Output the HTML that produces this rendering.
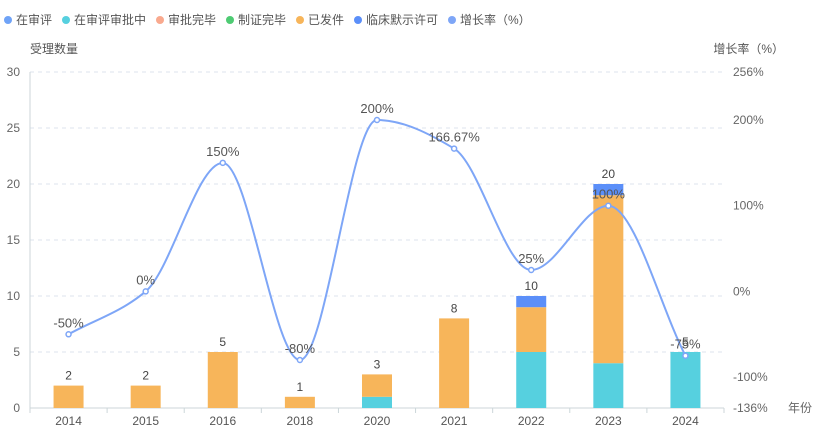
<!DOCTYPE html><html><head><meta charset="utf-8"><style>body{margin:0;background:#fff}svg{display:block;font-family:"Liberation Sans","Noto Sans CJK SC",sans-serif}</style></head><body>
<svg id="s" width="821" height="432" xmlns="http://www.w3.org/2000/svg"></svg>
<script>
const s=document.getElementById('s');let h='';
const L=30,R=724,T=72,B=408,cw=(R-L)/9;
const yl=v=>B-v*(B-T)/30, yr=p=>T+(256-p)*(B-T)/392;
const leg=[['在审评','#6FA3F7'],['在审评审批中','#56D0DF'],['审批完毕','#F9A98E'],['制证完毕','#4ECB73'],['已发件','#F7B55A'],['临床默示许可','#5B8FF9'],['增长率（%）','#7EA6F7']];
let x=8;
leg.forEach(([t,c])=>{h+=`<circle cx="${x}" cy="20" r="4" fill="${c}"/><text x="${x+8}" y="24" font-size="12" fill="#555">${t}</text>`;x+=8+t.length*12+(t.includes('%')?-6:0)+14;});
h+=`<text x="30" y="53" font-size="12" fill="#555">受理数量</text><text x="784" y="53" font-size="12" fill="#555" text-anchor="end">增长率（%）</text>`;
for(let v=5;v<=30;v+=5)h+=`<line x1="${L}" x2="${R}" y1="${yl(v)}" y2="${yl(v)}" stroke="#dde3ee" stroke-dasharray="4,4"/>`;
for(let v=0;v<=30;v+=5)h+=`<text x="20" y="${yl(v)+4}" font-size="12" fill="#666" text-anchor="end">${v}</text>`;
[[256,'256%'],[200,'200%'],[100,'100%'],[0,'0%'],[-100,'-100%'],[-136,'-136%']].forEach(([p,t])=>h+=`<text x="733" y="${yr(p)+4}" font-size="12" fill="#666">${t}</text>`);
h+=`<text x="788" y="412" font-size="12" fill="#666">年份</text>`;
h+=`<line x1="${L}" x2="${R}" y1="${B}" y2="${B}" stroke="#ccd6d9"/><line x1="${L}" x2="${L}" y1="${T}" y2="${B}" stroke="#ccd6d9"/>`;
const yrs=[2014,2015,2016,2018,2020,2021,2022,2023,2024];
for(let i=0;i<=9;i++)h+=`<line x1="${L+i*cw}" x2="${L+i*cw}" y1="${B}" y2="${B+5}" stroke="#ccd6d9"/>`;
const bars=[[0,2,0],[0,2,0],[0,5,0],[0,1,0],[1,2,0],[0,8,0],[5,4,1],[4,15,1],[5,0,0]];
const tot=[2,2,5,1,3,8,10,20,5];
const cols=['#56D0DF','#F7B55A','#5B8FF9'];
yrs.forEach((y,i)=>{const cx=L+cw*(i+.5);h+=`<text x="${cx}" y="425" font-size="12" fill="#555" text-anchor="middle">${y}</text>`;
let acc=0;bars[i].forEach((v,k)=>{if(!v)return;h+=`<rect x="${cx-15}" y="${yl(acc+v)}" width="30" height="${yl(acc)-yl(acc+v)}" fill="${cols[k]}"/>`;acc+=v;});
h+=`<text x="${cx}" y="${yl(tot[i])-6}" font-size="12" fill="#444" text-anchor="middle">${tot[i]}</text>`;});
const pc=[-50,0,150,-80,200,166.67,25,100,-75];const lab=['-50%','0%','150%','-80%','200%','166.67%','25%','100%','-75%'];
const P=pc.map((p,i)=>[L+cw*(i+.5),yr(p)]);
const n=P.length,dx=cw,m=[],sl=[];
for(let i=0;i<n-1;i++)sl.push((P[i+1][1]-P[i][1])/dx);
for(let i=0;i<n;i++){if(i==0)m.push(sl[0]);else if(i==n-1)m.push(sl[n-2]);else{const a=sl[i-1],b=sl[i];m.push(a*b<=0?0:2/(1/a+1/b));}}
let d=`M${P[0][0]},${P[0][1]}`;
for(let i=0;i<n-1;i++){d+=` C${P[i][0]+dx/3},${P[i][1]+m[i]*dx/3} ${P[i+1][0]-dx/3},${P[i+1][1]-m[i+1]*dx/3} ${P[i+1][0]},${P[i+1][1]}`;}
h+=`<path d="${d}" fill="none" stroke="#7EA6F7" stroke-width="2"/>`;
P.forEach((p,i)=>{h+=`<circle cx="${p[0]}" cy="${p[1]}" r="2.5" fill="#fff" stroke="#7EA6F7" stroke-width="1.5"/><text x="${p[0]}" y="${p[1]-7}" font-size="13" fill="#555" text-anchor="middle">${lab[i]}</text>`;});
s.innerHTML=h;
</script></body></html>
